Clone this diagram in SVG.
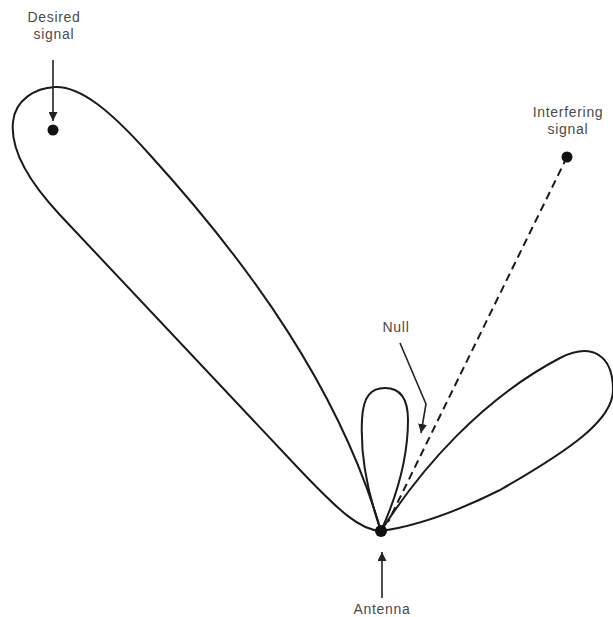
<svg xmlns="http://www.w3.org/2000/svg" width="613" height="617" viewBox="0 0 613 617">
<defs>
<style>
.lobe{fill:none;stroke:#1a1a1a;stroke-width:2;stroke-linejoin:round}
.arr{fill:none;stroke:#222;stroke-width:1.6}
.lbl{font-family:"Liberation Sans",Arial,sans-serif;font-size:14px;letter-spacing:0.7px;fill:#4a4a4a;text-anchor:middle}
.dot{fill:#111}
</style>
<marker id="ah" viewBox="0 0 10 10" refX="10" refY="5" markerWidth="9" markerHeight="9" markerUnits="userSpaceOnUse" orient="auto">
<path d="M0,0 L10,5 L0,10 Z" fill="#222"/>
</marker>
</defs>
<rect width="613" height="617" fill="#fff"/>
<g id="pattern">
<path class="lobe" d="M381,531 C360,530 340,512 300,470 L60,215 C30,183 10,150 13,122 C15,100 35,88 55,87 C80,86 110,110 150,155 C250,265 340,390 381,531 Z"/>
<path class="lobe" d="M381,531 C370,500 360,460 362,420 C363,395 372,388 385,388 C400,388 408,398 408,420 C408,460 395,500 381,531 Z"/>
<path class="lobe" d="M381,531 C420,470 480,400 560,358 C592,342 613,355 613,390 C613,420 570,450 500,490 C450,515 410,527 381,531 Z"/>
</g>
<g id="connectors">
<line x1="567" y1="157" x2="388" y2="522" stroke="#1a1a1a" stroke-width="2" stroke-dasharray="8,5"/>
<line class="arr" x1="53" y1="60" x2="53" y2="121" marker-end="url(#ah)"/>
<line class="arr" x1="382" y1="598" x2="382" y2="552" marker-end="url(#ah)"/>
<polyline class="arr" points="400,343 426,404 421,433" marker-end="url(#ah)"/>
</g>
<g id="desired">
<circle class="dot" cx="53" cy="130" r="5.5"/>
<text class="lbl" x="54" y="22">Desired</text>
<text class="lbl" x="54" y="39">signal</text>
</g>
<g id="interfering">
<circle class="dot" cx="567" cy="157" r="5.5"/>
<text class="lbl" x="568" y="117">Interfering</text>
<text class="lbl" x="568" y="134">signal</text>
</g>
<g id="null">
<text class="lbl" x="396" y="332">Null</text>
</g>
<g id="antenna">
<circle class="dot" cx="381" cy="531" r="6"/>
<text class="lbl" x="382" y="614">Antenna</text>
</g>
</svg>
